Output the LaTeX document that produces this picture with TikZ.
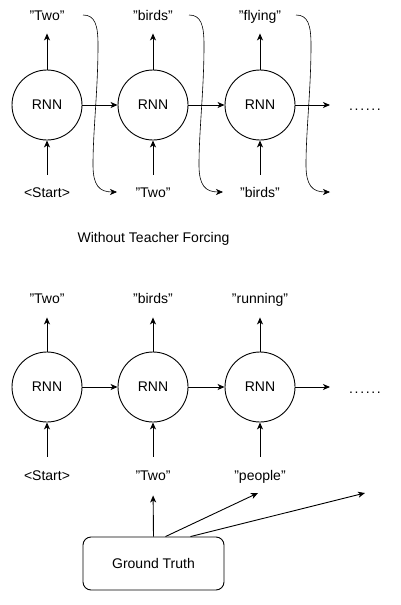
\documentclass[tikz,border=0pt]{standalone}
\usepackage{fontspec}
\setmainfont{Liberation Sans}
\usetikzlibrary{arrows.meta}

\begin{document}
\begin{tikzpicture}[x = 1pt, y = -1pt, line width = 0.9pt,
    font = \fontsize{14}{17}\selectfont,
    rnn/.style = {draw, circle, minimum size = 70pt, inner sep = 0pt},
    word/.style = {inner sep = 0pt, text height = 10pt, text depth = 3pt},
    link/.style = {-{Stealth[length = 7pt, width = 6pt, inset = 2pt]}}]
    \useasboundingbox (0,0) rectangle (400,605);

    \foreach \i/\x/\up/\down in {1/47/"Two"/<Start>, 2/153/"birds"/"Two", 3/260/"flying"/"birds"} {
        \node[rnn] (a\i) at (\x,105) {RNN};
        \node[word] (ao\i) at (\x,16.5) {\up};
        \node[word] (ai\i) at (\x,193.5) {\down};
        \draw[link, shorten > = 10pt] (a\i.north) -- (ao\i.south);
        \draw[link, shorten < = 12pt] (ai\i.north) -- (a\i.south);
        \draw[link, line width = 0.6pt] (\x+36,15) .. controls (\x+48,15) and (\x+51,25) .. (\x+51,45)
            .. controls (\x+51,90) and (\x+46,130) .. (\x+46,165)
            .. controls (\x+46,185) and (\x+52,192) .. (\x+70,192);
    }
    \coordinate (ae) at (330,105);
    \draw[link] (a1.east) -- (a2.west);
    \draw[link] (a2.east) -- (a3.west);
    \draw[link] (a3.east) -- (ae);
    \node[word] (adots) at (365,106.5) {\addfontfeature{LetterSpace=12}......};

    \node[word] (title) at (153.5,238.5) {Without Teacher Forcing};

    \foreach \i/\x/\up/\down in {1/47/"Two"/<Start>, 2/153/"birds"/"Two", 3/260/"running"/"people"} {
        \node[rnn] (b\i) at (\x,387) {RNN};
        \node[word] (bo\i) at (\x,299.5) {\up};
        \node[word] (bi\i) at (\x,476.5) {\down};
        \draw[link, shorten > = 11pt] (b\i.north) -- (bo\i.south);
        \draw[link, shorten < = 13pt] (bi\i.north) -- (b\i.south);
    }
    \coordinate (be) at (330,387);
    \draw[link] (b1.east) -- (b2.west);
    \draw[link] (b2.east) -- (b3.west);
    \draw[link] (b3.east) -- (be);
    \node[word] (bdots) at (365,390) {\addfontfeature{LetterSpace=12}......};

    \node[draw, rounded corners = 8pt, minimum width = 141pt, minimum height = 53pt] (gt) at (153.5,563.5) {Ground Truth};
    \coordinate (g2) at (258,493);
    \coordinate (g3) at (365,493);
    \draw[link, shorten > = 12pt] (gt.north) -- (bi2.south);
    \draw[link] ([xshift = 12pt]gt.north) -- (g2);
    \draw[link] ([xshift = 37pt]gt.north) -- (g3);
\end{tikzpicture}
\end{document}
